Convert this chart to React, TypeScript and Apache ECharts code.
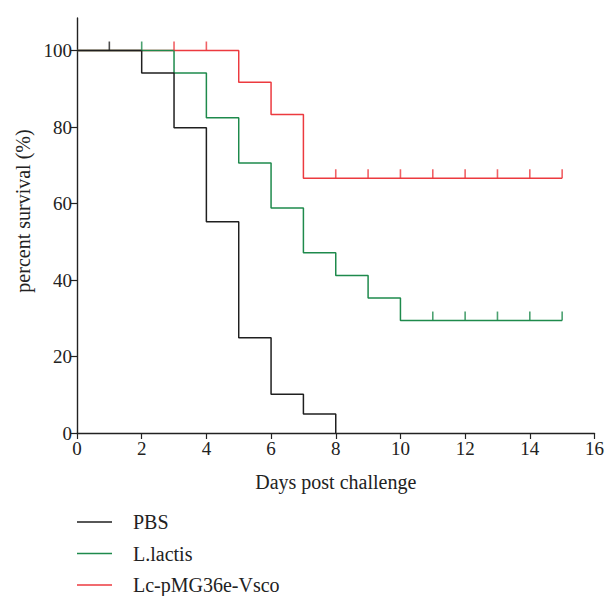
import React, { useEffect, useRef } from "react";
import * as echarts from "echarts";

const seriesNames = ["PBS", "L.lactis", "Lc-pMG36e-Vsco"];
const seriesColors = ["#1f1f1f", "#1e8a4c", "#ec3a3f"];

// Kaplan-Meier step points: [day, percent survival]
const pbsCurve: [number, number][] = [
  [0, 100], [2, 94.1], [3, 79.8], [4, 55.2], [5, 24.9], [6, 10.1], [7, 5.0], [8, 0],
];
const lactisCurve: [number, number][] = [
  [0, 100], [3, 94.1], [4, 82.4], [5, 70.6], [6, 58.8], [7, 47.1], [8, 41.2], [9, 35.3], [10, 29.4], [15, 29.4],
];
const vscoCurve: [number, number][] = [
  [0, 100], [5, 91.7], [6, 83.3], [7, 66.6], [15, 66.6],
];

// censored observation days
const pbsCensor = [1];
const lactisCensor = [2, 11, 12, 13, 14, 15];
const vscoCensor = [3, 4, 8, 9, 10, 11, 12, 13, 14, 15];

const xTicks = [0, 2, 4, 6, 8, 10, 12, 14, 16];
const yTicks = [0, 20, 40, 60, 80, 100];

const xTitle = "Days post challenge";
const yTitle = "percent survival (%)";

const FONT = "Liberation Serif";

function levelAt(curve: [number, number][], t: number): number {
  let v = curve[0][1];
  for (const [x, y] of curve) {
    if (x < t || (x === t && x === curve[curve.length - 1][0])) v = y;
  }
  return v;
}

export default function App() {
  const ref = useRef<HTMLDivElement>(null);
  useEffect(() => {
    if (!ref.current) return;
    const chart = echarts.init(ref.current, null, { renderer: "svg" });
    const curves = [pbsCurve, lactisCurve, vscoCurve];
    const censors = [pbsCensor, lactisCensor, vscoCensor];

    const lineSeries = curves.map((c, i) => ({
      name: seriesNames[i],
      type: "line",
      step: "end",
      data: c,
      showSymbol: false,
      symbol: "none",
      lineStyle: { color: seriesColors[i], width: 1.5 },
      z: 5 - i,
    }));
    const censorSeries = censors.map((days, i) => ({
      name: seriesNames[i] + " censored",
      type: "scatter",
      data: days.map((d) => [d, levelAt(curves[i], d)]),
      symbol: "rect",
      symbolSize: [1.6, 9],
      symbolOffset: [0, -4.5],
      itemStyle: { color: seriesColors[i] },
      z: 8 - i,
    }));

    const legendTop = 522;
    const legendGap = 31.5;
    const graphics: any[] = [
      {
        type: "text",
        x: 23,
        y: 211,
        rotation: Math.PI / 2,
        style: {
          text: yTitle,
          font: `20px "${FONT}"`,
          fill: "#222",
          align: "center",
          verticalAlign: "middle",
        },
      },
    ];
    seriesNames.forEach((n, i) => {
      const y = legendTop + i * legendGap;
      graphics.push({
        type: "line",
        shape: { x1: 77, y1: y, x2: 112, y2: y },
        style: { stroke: seriesColors[i], lineWidth: 1.5 },
      });
      graphics.push({
        type: "text",
        x: 133,
        y: y,
        style: {
          text: n,
          font: `20px "${FONT}"`,
          fill: "#222",
          verticalAlign: "middle",
        },
      });
    });

    chart.setOption({
      animation: false,
      grid: { left: 77, right: 9, top: 18, bottom: 163, containLabel: false },
      xAxis: {
        type: "value",
        min: 0,
        max: 16,
        interval: 2,
        name: xTitle,
        nameLocation: "middle",
        nameGap: 39,
        nameTextStyle: { fontFamily: FONT, fontSize: 20, color: "#222" },
        axisLine: { onZero: false, lineStyle: { color: "#222", width: 1.4 } },
        axisTick: { show: true, length: 6, customValues: xTicks, lineStyle: { color: "#222", width: 1.2 } },
        axisLabel: { customValues: xTicks, fontFamily: FONT, fontSize: 19, color: "#222", margin: 6 },
        splitLine: { show: false },
      },
      yAxis: {
        type: "value",
        min: 0,
        max: 108.5,
        axisLine: { show: true, onZero: false, lineStyle: { color: "#222", width: 1.4 } },
        axisTick: { show: true, length: 6, customValues: yTicks, lineStyle: { color: "#222", width: 1.2 } },
        axisLabel: { customValues: yTicks, fontFamily: FONT, fontSize: 19, color: "#222", margin: 5 },
        splitLine: { show: false },
      },
      series: [...lineSeries, ...censorSeries],
      graphic: graphics,
    });
    return () => chart.dispose();
  }, []);
  return <div ref={ref} style={{ width: 607, height: 596, position: "absolute", left: 0, top: 0 }} />;
}
